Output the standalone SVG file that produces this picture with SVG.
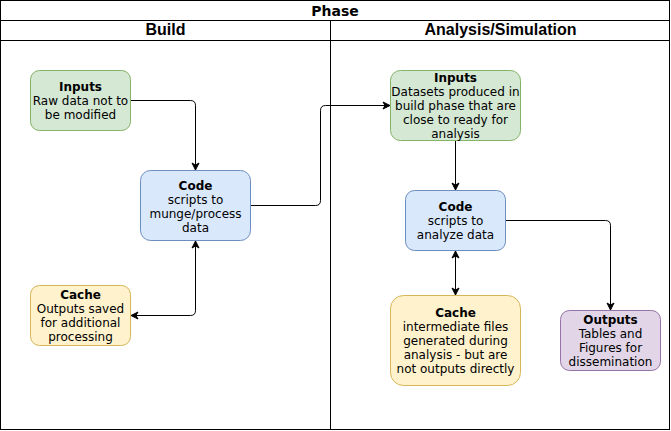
<svg xmlns="http://www.w3.org/2000/svg" width="671" height="431" viewBox="0 0 671 431">
<style>
.frame{fill:none;stroke:#000;stroke-width:1}
.hdr{font-family:"Liberation Sans",Arial,sans-serif;font-weight:bold;font-size:16px;text-anchor:middle;fill:#000}
.ttl{font-family:"DejaVu Sans",Verdana,sans-serif;font-weight:bold;font-size:14px;text-anchor:middle;fill:#000}
.t{font-family:"DejaVu Sans",Verdana,sans-serif;font-size:12px;text-anchor:middle;fill:#000}
.b{font-weight:bold}
.green{fill:#d5e8d4;stroke:#82b366}
.blue{fill:#dae8fc;stroke:#6c8ebf}
.yellow{fill:#fff2cc;stroke:#d6b656}
.purple{fill:#e1d5e7;stroke:#9673a6}
.edge{fill:none;stroke:#000;stroke-width:1}
</style>
<defs>
<marker id="arr" markerUnits="userSpaceOnUse" markerWidth="10" markerHeight="10" viewBox="-8 -5 10 10" refX="0" refY="0" orient="auto-start-reverse">
<path d="M0,0 L-7,-3.5 L-5,0 L-7,3.5 Z" fill="#000" stroke="#000" stroke-width="1"/>
</marker>
</defs>
<g id="pool">
<rect class="frame" x="0.5" y="0.5" width="669" height="429" fill="#fff"/>
<line class="frame" x1="0.5" y1="20.5" x2="669.5" y2="20.5"/>
<line class="frame" x1="0.5" y1="40.5" x2="669.5" y2="40.5"/>
<line class="frame" x1="330.5" y1="20.5" x2="330.5" y2="429.5"/>
<text class="ttl" x="335" y="15.5">Phase</text>
<text class="hdr" x="165.5" y="35">Build</text>
<text class="hdr" x="500.5" y="35">Analysis/Simulation</text>
</g>
<g id="connectors">
<path class="edge" d="M130.5,100.5 H190.5 Q195.5,100.5 195.5,105.5 V170" marker-end="url(#arr)"/>
<path class="edge" d="M250.5,205.5 H315.5 Q320.5,205.5 320.5,200.5 V110.5 Q320.5,105.5 325.5,105.5 H390" marker-end="url(#arr)"/>
<path class="edge" d="M195.5,241 V310.5 Q195.5,315.5 190.5,315.5 H131" marker-start="url(#arr)" marker-end="url(#arr)"/>
<path class="edge" d="M455.5,140.5 V190" marker-end="url(#arr)"/>
<path class="edge" d="M455.5,251 V295" marker-start="url(#arr)" marker-end="url(#arr)"/>
<path class="edge" d="M505.5,220.5 H605.5 Q610.5,220.5 610.5,225.5 V310" marker-end="url(#arr)"/>
</g>
<g id="build-inputs">
<rect class="green" x="30.5" y="70.5" width="100" height="60" rx="9"/>
<text class="t" x="80.5" y="90.5"><tspan class="b">Inputs</tspan><tspan x="80.5" dy="14">Raw data not to</tspan><tspan x="80.5" dy="14">be modified</tspan></text>
</g>
<g id="build-code">
<rect class="blue" x="140.5" y="170.5" width="110" height="70" rx="10"/>
<text class="t" x="195.5" y="189.5"><tspan class="b">Code</tspan><tspan x="195.5" dy="14">scripts to</tspan><tspan x="195.5" dy="14">munge/process</tspan><tspan x="195.5" dy="14">data</tspan></text>
</g>
<g id="build-cache">
<rect class="yellow" x="30.5" y="285.5" width="100" height="60" rx="9"/>
<text class="t" x="80.5" y="299"><tspan class="b">Cache</tspan><tspan x="80.5" dy="14">Outputs saved</tspan><tspan x="80.5" dy="14">for additional</tspan><tspan x="80.5" dy="14">processing</tspan></text>
</g>
<g id="analysis-inputs">
<rect class="green" x="390.5" y="70.5" width="130" height="70" rx="10"/>
<text class="t" x="455.5" y="82"><tspan class="b">Inputs</tspan><tspan x="455.5" dy="14">Datasets produced in</tspan><tspan x="455.5" dy="14">build phase that are</tspan><tspan x="455.5" dy="14">close to ready for</tspan><tspan x="455.5" dy="14">analysis</tspan></text>
</g>
<g id="analysis-code">
<rect class="blue" x="405.5" y="190.5" width="100" height="60" rx="9"/>
<text class="t" x="455.5" y="210.5"><tspan class="b">Code</tspan><tspan x="455.5" dy="14">scripts to</tspan><tspan x="455.5" dy="14">analyze data</tspan></text>
</g>
<g id="analysis-cache">
<rect class="yellow" x="390.5" y="295.5" width="130" height="90" rx="13"/>
<text class="t" x="455.5" y="317"><tspan class="b">Cache</tspan><tspan x="455.5" dy="14">intermediate files</tspan><tspan x="455.5" dy="14">generated during</tspan><tspan x="455.5" dy="14">analysis - but are</tspan><tspan x="455.5" dy="14">not outputs directly</tspan></text>
</g>
<g id="outputs">
<rect class="purple" x="560.5" y="310.5" width="100" height="60" rx="9"/>
<text class="t" x="610.5" y="323.5"><tspan class="b">Outputs</tspan><tspan x="610.5" dy="14">Tables and</tspan><tspan x="610.5" dy="14">Figures for</tspan><tspan x="610.5" dy="14">dissemination</tspan></text>
</g>
</svg>
